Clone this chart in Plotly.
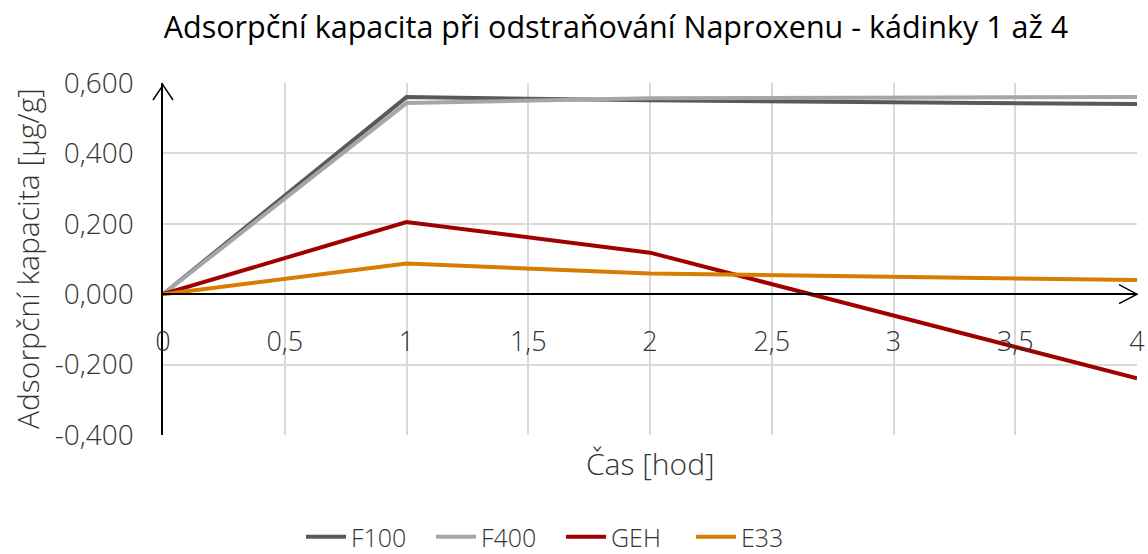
import plotly.graph_objects as go

# ---- data ----
time_h = [0, 1, 2, 4]
f100 = [0.0, 0.560, 0.551, 0.540]
f400 = [0.0, 0.543, 0.557, 0.560]
geh = [0.0, 0.205, 0.118, -0.239]
e33 = [0.0, 0.087, 0.059, 0.040]

series_names = ["F100", "F400", "GEH", "E33"]
series_colors = ["#595959", "#A6A6A6", "#A00000", "#D97D00"]

x_tickvals = [0, 0.5, 1, 1.5, 2, 2.5, 3, 3.5, 4]
x_ticktext = ["0", "0,5", "1", "1,5", "2", "2,5", "3", "3,5", "4"]
y_tickvals = [-0.4, -0.2, 0.0, 0.2, 0.4, 0.6]
y_ticktext = ["-0,400", "-0,200", "0,000", "0,200", "0,400", "0,600"]

title_text = "Adsorpční kapacita při odstraňování Naproxenu - kádinky 1 až 4"
x_title = "Čas [hod]"
y_title = "Adsorpční kapacita [μg/g]"

FONT = "Open Sans"
TXT = "#333333"

fig = go.Figure()
for name, vals, col in zip(series_names, [f100, f400, geh, e33], series_colors):
    fig.add_trace(go.Scatter(x=time_h, y=vals, name=name, mode="lines",
                             line=dict(color=col, width=4)))

W, H = 1148, 554
L, R, T, B = 163, 11, 83, 119
plot_h = H - T - B
zero_frac = (0 - (-0.4)) / 1.0

fig.update_layout(
    width=W, height=H,
    margin=dict(l=L, r=R, t=T, b=B, autoexpand=False),
    paper_bgcolor="white", plot_bgcolor="white",
    font=dict(family=FONT, size=28, color=TXT, weight=300),
    title=dict(text=title_text, x=616 / W, xref="container", xanchor="center",
               y=1 - 27 / H, yref="container", yanchor="middle",
               font=dict(family=FONT, size=30.5, color="#000000", weight=400)),
    xaxis=dict(range=[0, 4], tickvals=x_tickvals, ticktext=x_ticktext,
               showgrid=True, gridcolor="#D9D9D9", gridwidth=1.5,
               zeroline=False, showline=True, linecolor="black", linewidth=1.5,
               anchor="free", position=zero_frac, side="bottom",
               ticks="", ticklabelstandoff=24, tickfont=dict(size=27)),
    yaxis=dict(range=[-0.4, 0.6], tickvals=y_tickvals, ticktext=y_ticktext,
               showgrid=True, gridcolor="#D9D9D9", gridwidth=1.5,
               zeroline=False, showline=True, linecolor="black", linewidth=1.5,
               ticks="", ticklabelstandoff=22, tickfont=dict(size=28)),
    showlegend=True,
    legend=dict(orientation="h", xref="container", x=561 / W, xanchor="center",
                yref="container", y=(H - 537) / H, yanchor="middle",
                font=dict(size=25, color=TXT), itemwidth=40,
                entrywidth=75, entrywidthmode="pixels"),
)

fig.add_annotation(text=x_title, xref="paper", yref="paper", x=0.5,
                   y=(435 - 463) / plot_h, xanchor="center", yanchor="middle",
                   showarrow=False, font=dict(size=30, color=TXT))
fig.add_annotation(text=y_title, xref="paper", yref="paper", x=(27 - L) / (W - L - R),
                   y=0.5, xanchor="center", yanchor="middle", textangle=-90,
                   showarrow=False, font=dict(size=30, color=TXT))

# arrowheads on axes
fig.add_shape(type="path", xref="paper", yref="paper", xsizemode="pixel", ysizemode="pixel",
              xanchor=0, yanchor=1, path="M -10,-17 L 0,-2 L 10,-17",
              line=dict(color="black", width=1.5))
fig.add_shape(type="path", xref="paper", yref="paper", xsizemode="pixel", ysizemode="pixel",
              xanchor=1, yanchor=zero_frac, path="M -18,9.5 L 0,0 L -18,-9.5",
              line=dict(color="black", width=1.5))

fig.write_html("out.html", config={"displayModeBar": False},
               post_script="document.body.style.margin='0';")
